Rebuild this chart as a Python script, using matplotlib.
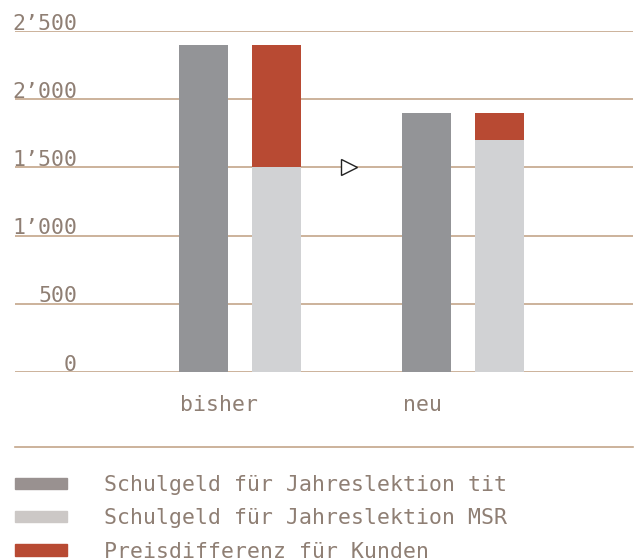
import matplotlib.pyplot as plt
from matplotlib.patches import Patch
from matplotlib.lines import Line2D

groups = ['bisher', 'neu']
tit = [2400, 1900]
msr = [1500, 1700]
diff = [900, 200]
yticks = [0, 500, 1000, 1500, 2000, 2500]
ylabels = ['0', '500', '1’000', '1’500', '2’000', '2’500']
legend_labels = ['Schulgeld für Jahreslektion tit',
                 'Schulgeld für Jahreslektion MSR',
                 'Preisdifferenz für Kunden']

txt = '#8f7f74'
grid = '#c4a68a'
plt.rcParams['font.family'] = ['DejaVu Sans Mono']
fs = 15.5

W, H = 643, 560
fig = plt.figure(figsize=(W / 100, H / 100), dpi=100)
ax = fig.add_axes([15 / W, (H - 372) / H, (633 - 15) / W, (372 - 31) / H])

x = range(len(groups))
w = 0.22
off = 0.164
xd = [i - off for i in x]
xs = [i + off for i in x]
ax.bar(xd, tit, w, color='#939497', zorder=3)
ax.bar(xs, msr, w, color='#d1d2d4', zorder=3)
ax.bar(xs, diff, w, bottom=msr, color='#b84a33', zorder=3)

# triangle marker between the groups
ax.plot([0.49], [1500], marker='>', markersize=11, markerfacecolor='white',
        markeredgecolor='#222222', markeredgewidth=1.0, zorder=4)

for v in yticks:
    ax.axhline(v, color=grid, lw=1.2, zorder=1)
for v, lab in zip(yticks, ylabels):
    ax.text(62 / (633 - 15), v + 10, lab, transform=ax.get_yaxis_transform(),
            ha='right', va='baseline', color=txt, fontsize=fs)

for xi, g in zip(xd, groups):
    ax.text(xi - w / 2 + 0.005, -240, g, ha='left', va='center', color=txt, fontsize=fs)

ax.set_xlim(-1.009, 1.762)
ax.set_ylim(0, 2500)
ax.axis('off')

fig.add_artist(Line2D([15 / W, 633 / W], [(H - 447) / H] * 2, color=grid, lw=1.2))

handles = [Patch(color='#999190'), Patch(color='#ccc8c6'), Patch(color='#b84a33')]
leg = fig.legend(handles, legend_labels, loc='upper left',
                 bbox_to_anchor=(15 / W, (H - 475) / H), frameon=False,
                 fontsize=fs, handlelength=2.4, handleheight=0.45,
                 handletextpad=1.75, labelspacing=0.62, borderpad=0, borderaxespad=0)
for t in leg.get_texts():
    t.set_color(txt)

fig.savefig('out.png', dpi=100)
